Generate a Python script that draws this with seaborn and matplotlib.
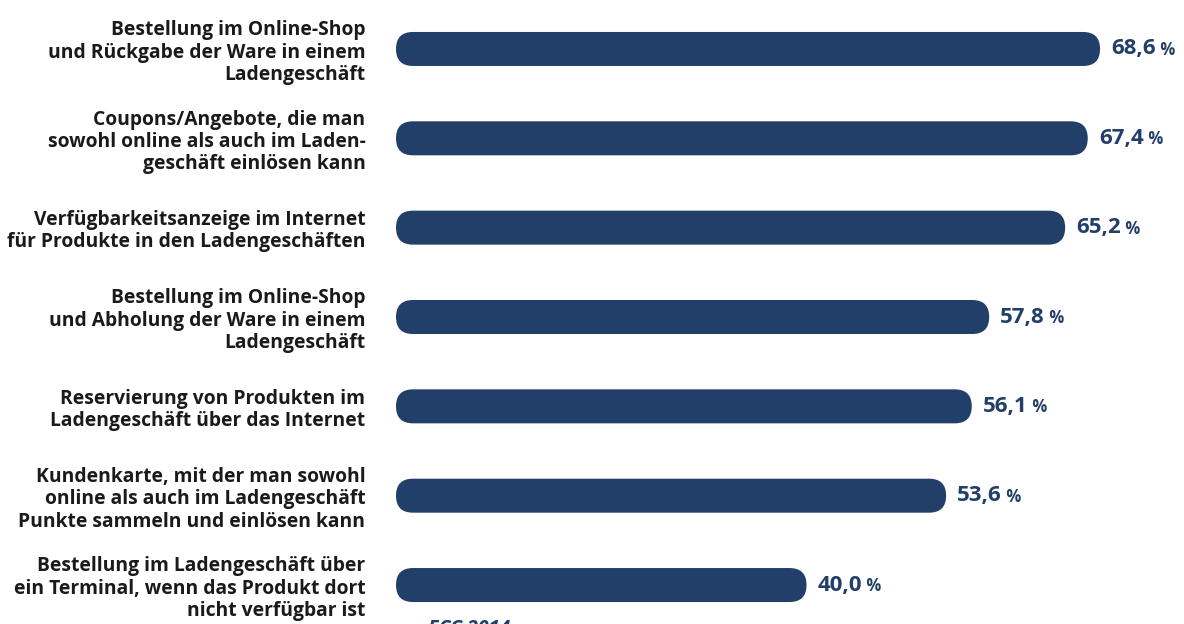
import matplotlib
matplotlib.use("Agg")
import matplotlib.pyplot as plt
import seaborn as sns
import pandas as pd
from matplotlib.patches import FancyBboxPatch

categories = [
    "Bestellung im Online-Shop\nund Rückgabe der Ware in einem\nLadengeschäft",
    "Coupons/Angebote, die man\nsowohl online als auch im Laden-\ngeschäft einlösen kann",
    "Verfügbarkeitsanzeige im Internet\nfür Produkte in den Ladengeschäften",
    "Bestellung im Online-Shop\nund Abholung der Ware in einem\nLadengeschäft",
    "Reservierung von Produkten im\nLadengeschäft über das Internet",
    "Kundenkarte, mit der man sowohl\nonline als auch im Ladengeschäft\nPunkte sammeln und einlösen kann",
    "Bestellung im Ladengeschäft über\nein Terminal, wenn das Produkt dort\nnicht verfügbar ist",
]
values = [68.6, 67.4, 65.2, 57.8, 56.1, 53.6, 40.0]
value_labels = ["68,6", "67,4", "65,2", "57,8", "56,1", "53,6", "40,0"]
source = "ECC 2014"

navy = "#223f69"

sns.set_theme(style="white")
plt.rcParams['font.family'] = ['Open Sans', 'DejaVu Sans']

df = pd.DataFrame({"cat": categories, "val": values})

fig = plt.figure(figsize=(11.84, 6.24), dpi=100)
W, H = 1184, 624
left_px, right_px = 396, 1176
top_px, bot_px = 4.3, 629.7
ax = fig.add_axes([left_px / W, 1 - bot_px / H, (right_px - left_px) / W, (bot_px - top_px) / H])

bar_h = 34 / 89.33
sns.barplot(data=df, x="val", y="cat", ax=ax, color=navy, width=bar_h, orient="h")
ax.set_xlim(0, 76)
ax.set_ylim(6.5, -0.5)

# Replace bars with rounded ones
px_per_x = (right_px - left_px) / 76
px_per_y = (bot_px - top_px) / 7
aspect = (1 / px_per_y) / (1 / px_per_x)
patches = list(ax.patches)
for p in patches:
    x0, y0 = p.get_x(), p.get_y()
    w, h = p.get_width(), p.get_height()
    r = (h / aspect) / 2
    fb = FancyBboxPatch((x0, y0), w, h,
                        boxstyle=f"round,pad=0,rounding_size={r}",
                        mutation_aspect=aspect,
                        facecolor=navy, edgecolor="none")
    p.remove()
    ax.add_patch(fb)

for i, (v, lab) in enumerate(zip(values, value_labels)):
    t = ax.annotate(lab, xy=(v, i), xytext=(8, 0), textcoords="offset points",
                    ha="left", va="center", fontsize=16, fontweight="bold", color=navy)
    ax.annotate(" %", xy=(1, 0.45), xycoords=t, ha="left", va="center",
                fontsize=12, fontweight="bold", color=navy)

ax.set_xlabel("")
ax.set_ylabel("")
ax.set_xticks([])
ax.tick_params(axis="y", length=0, pad=22)
for lbl in ax.get_yticklabels():
    lbl.set_fontweight("bold")
    lbl.set_fontsize(13.9)
    lbl.set_color("#1a1a1a")
    lbl.set_linespacing(1.15)
for s in ax.spines.values():
    s.set_visible(False)

fig.text(428 / W, 1 - 619 / H, source, ha="left", va="top", fontsize=14,
         fontweight="bold", fontstyle="italic", color=navy)

fig.savefig("out.png", dpi=100)
